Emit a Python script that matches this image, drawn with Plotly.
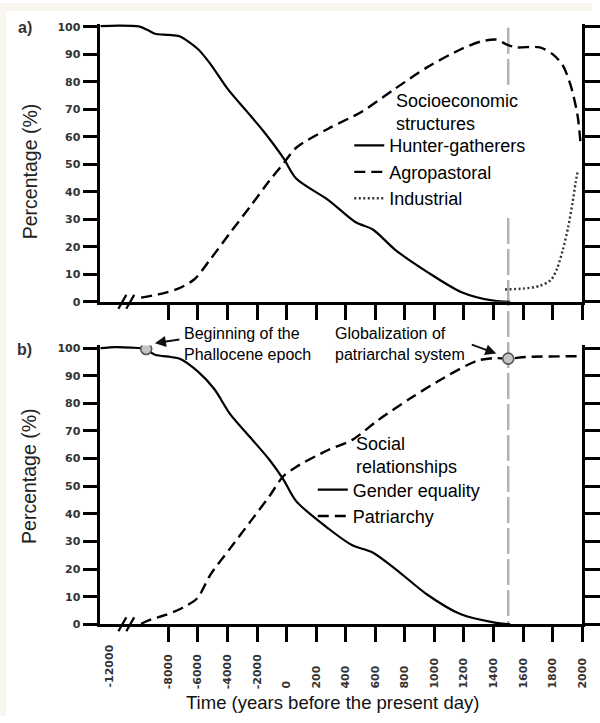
import numpy as np
import plotly.graph_objects as go

# ---------------- axis scale (broken time axis: equal spacing per tick) ----------------
AXIS_YEARS = [-14000, -12000, -8000, -6000, -4000, -2000, 0, 200, 400, 600, 800,
              1000, 1200, 1400, 1600, 1800, 2000]
AXIS_POS = [-3, -2, 0, 1, 2, 3, 4, 5, 6, 7, 8, 9, 10, 11, 12, 13, 14]

TICK_YEARS = [-8000, -6000, -4000, -2000, 0, 200, 400, 600, 800, 1000, 1200, 1400,
              1600, 1800, 2000]
BREAK_LABEL_YEAR = -12000
Y_TICKS = [0, 10, 20, 30, 40, 50, 60, 70, 80, 90, 100]

# ---------------- panel a: socioeconomic structures ----------------
hg_years = [-12600, -11400, -10000, -9400, -8900, -8000, -7250, -6000, -5160, -4000,
            -2690, -1560, -220, 65, 285, 465, 586, 733, 953, 1180, 1400, 1514]
hg_vals = [100.2, 100.4, 100.1, 98.8, 97.4, 97.0, 96.5, 91.9, 86.5, 77.5,
           69.2, 62.0, 52.3, 44.8, 36.9, 29.0, 26.2, 19.0, 10.8, 3.6, 0.4, 0.0]

ag_years = [-9840, -8500, -7370, -6230, -5160, -3830, -2490, -1160, -220, 65, 285,
            512, 733, 953, 1180, 1314, 1420, 1487, 1554, 1714, 1800, 1868, 1921,
            1968, 1988]
ag_vals = [1.5, 2.9, 4.7, 8.2, 15.4, 25.0, 34.4, 44.0, 50.2, 56.0, 63.0,
           69.2, 77.4, 85.3, 91.8, 94.6, 95.3, 93.6, 92.5, 92.5, 90.0, 86.0, 78.9,
           68.1, 58.4]

ind_years = [1478, 1600, 1714, 1790, 1830, 1870, 1905, 1935, 1955, 1972]
ind_vals = [4.5, 4.8, 5.8, 8.0, 12.0, 19.0, 27.0, 36.0, 43.0, 48.0]

# ---------------- panel b: social relationships ----------------
ge_years = [-12600, -11570, -10500, -9570, -8900, -7830, -7230, -6030, -4890, -3830,
            -2490, -1160, -220, 65, 285, 445, 579, 733, 953, 1180, 1400, 1514]
ge_vals = [100.0, 100.4, 100.2, 99.7, 97.6, 96.8, 96.2, 91.7, 85.2, 76.2,
           67.9, 59.6, 52.5, 44.6, 34.6, 28.6, 26.1, 20.2, 10.7, 3.6, 0.7, 0.0]

pa_years = [-9840, -9170, -8230, -7030, -6030, -5160, -3830, -2490, -1160, -220, 65,
            285, 445, 619, 846, 1066, 1287, 1400, 1500, 1620, 2000]
pa_vals = [0.2, 1.8, 3.3, 6.0, 9.5, 17.9, 27.4, 36.9, 46.4, 53.6, 57.0,
           63.2, 66.8, 73.9, 82.1, 89.3, 95.4, 96.4, 96.2, 96.8, 97.1]

event_years = [-9500, 1500]
event_vals = [99.7, 96.2]
GLOBALIZATION_YEAR = 1500


def pos(years):
    return np.interp(np.asarray(years, dtype=float), AXIS_YEARS, AXIS_POS)


# DejaVu Sans Bold advance widths (em) used to bottom-align rotated tick labels
_ADV = {'-': 0.415, 'd': 0.696}
_NBSP = 0.348


def pad_label(y, ref=str(BREAK_LABEL_YEAR)):
    def width(s):
        return sum(_ADV['-'] if c == '-' else _ADV['d'] for c in s)
    s = str(y)
    n = int(round((width(ref) - width(s)) / _NBSP))
    return s + '\u00a0' * n


TICK_LABELS = [pad_label(y) for y in TICK_YEARS]

# ---------------- layout geometry (pixels -> paper) ----------------
W, H = 600, 723


def px(x):
    return x / W


def py(y):
    return 1 - y / H


XD = [px(101.7), px(590)]
XR = [-2.3, 14]
YD_A = [py(303), py(21.2)]
YD_B = [py(630), py(347.2)]

BLACK = 'black'
TICKFONT = dict(family='DejaVu Sans', size=11, color='#333333', weight='bold')
TXT = 'Liberation Sans'
DASH = '11px,6px'
DOT = '2px,2.5px'

fig = go.Figure()

# panel a
fig.add_trace(go.Scatter(x=pos(hg_years), y=hg_vals, mode='lines', name='Hunter-gatherers',
                         line=dict(color=BLACK, width=2.2, shape='spline', smoothing=0.8),
                         xaxis='x', yaxis='y', legend='legend'))
fig.add_trace(go.Scatter(x=pos(ag_years), y=ag_vals, mode='lines', name='Agropastoral',
                         line=dict(color=BLACK, width=2.4, dash=DASH, shape='spline', smoothing=0.8),
                         xaxis='x', yaxis='y', legend='legend'))
fig.add_trace(go.Scatter(x=pos(ind_years), y=ind_vals, mode='lines', name='Industrial',
                         line=dict(color='#333333', width=2.4, dash=DOT, shape='spline', smoothing=0.8),
                         xaxis='x', yaxis='y', legend='legend'))

# panel b
fig.add_trace(go.Scatter(x=pos(ge_years), y=ge_vals, mode='lines', name='Gender equality',
                         line=dict(color=BLACK, width=2.2, shape='spline', smoothing=0.8),
                         xaxis='x2', yaxis='y2', legend='legend2'))
fig.add_trace(go.Scatter(x=pos(pa_years), y=pa_vals, mode='lines', name='Patriarchy',
                         line=dict(color=BLACK, width=2.4, dash=DASH, shape='spline', smoothing=0.8),
                         xaxis='x2', yaxis='y2', legend='legend2'))
fig.add_trace(go.Scatter(x=pos(event_years), y=event_vals, mode='markers', showlegend=False,
                         marker=dict(size=11, color='#c4c4c4', line=dict(color='#555555', width=1.6)),
                         xaxis='x2', yaxis='y2', hoverinfo='skip'))
# carrier trace for the "-12000" label axis
fig.add_trace(go.Scatter(x=[None], y=[None], xaxis='x3', yaxis='y2', showlegend=False,
                         hoverinfo='skip'))

common_x = dict(domain=XD, range=XR, tickmode='array', tickvals=pos(TICK_YEARS),
                ticks='outside', ticklen=15, tickwidth=2.5, tickcolor=BLACK,
                showline=True, linewidth=2.5, linecolor=BLACK, showgrid=False,
                zeroline=False, fixedrange=True)
common_y = dict(range=[0, 101], tickmode='array', tickvals=Y_TICKS, ticks='outside',
                ticklen=15, tickwidth=2.5, tickcolor=BLACK, showline=True, linewidth=2.5,
                linecolor=BLACK, mirror='ticks', showgrid=False, zeroline=False,
                tickfont=TICKFONT, fixedrange=True)

LEGFONT = dict(family=TXT, size=18, color=BLACK)
fig.update_layout(
    width=W, height=H, margin=dict(l=0, r=0, t=0, b=0),
    paper_bgcolor='white', plot_bgcolor='white',
    font=dict(family=TXT, color=BLACK),
    xaxis=dict(common_x, anchor='y', showticklabels=False),
    yaxis=dict(common_y, domain=YD_A, anchor='x'),
    xaxis2=dict(common_x, anchor='y2', showticklabels=True, ticktext=TICK_LABELS,
                tickangle=-90, tickfont=TICKFONT),
    yaxis2=dict(common_y, domain=YD_B, anchor='x2'),
    xaxis3=dict(overlaying='x2', anchor='y2', range=XR, tickmode='array',
                tickvals=pos([BREAK_LABEL_YEAR]), ticktext=[str(BREAK_LABEL_YEAR)],
                ticks='outside', ticklen=15, tickwidth=2.5, tickcolor='rgba(0,0,0,0)',
                showline=False, showgrid=False, zeroline=False, tickangle=-90,
                tickfont=TICKFONT, fixedrange=True),
    legend=dict(x=px(354), xanchor='left', y=py(126), yanchor='top',
                bgcolor='rgba(0,0,0,0)', font=LEGFONT, itemwidth=30, tracegroupgap=0),
    legend2=dict(x=px(317), xanchor='left', y=py(475), yanchor='top',
                 bgcolor='rgba(0,0,0,0)', font=LEGFONT, itemwidth=30, tracegroupgap=0),
    showlegend=True,
)

# cream frame strips at the top/left edge of the page
fig.add_shape(type='rect', xref='paper', yref='paper', x0=0, x1=1, y0=py(8), y1=1,
              fillcolor='#f8f6ee', line=dict(width=0), layer='below')
fig.add_shape(type='rect', xref='paper', yref='paper', x0=0, x1=px(6), y0=0, y1=1,
              fillcolor='#f8f6ee', line=dict(width=0), layer='below')

# vertical gray dashed line at globalization year (hidden behind legend title region)
gx = float(pos([GLOBALIZATION_YEAR])[0])
for (ya, yb) in [(25, 88), (218, 630)]:
    fig.add_shape(type='line', xref='x2', yref='paper', x0=gx, x1=gx, y0=py(ya), y1=py(yb),
                  line=dict(color='#b3b3b3', width=2.5, dash='26px,5px'), layer='below')

# axis break marks
for (xa, yy) in [(124, 303), (132, 303), (124, 630), (132, 630)]:
    fig.add_shape(type='line', xref='paper', yref='paper',
                  x0=px(xa - 4), x1=px(xa + 4), y0=py(yy + 7), y1=py(yy - 7),
                  line=dict(color=BLACK, width=2.2))


def note(text, x, y, size, xanchor='center', yanchor='middle', angle=0, color=BLACK,
         weight='normal', align='left'):
    return dict(text=text, x=px(x), y=py(y), xref='paper', yref='paper', showarrow=False,
                xanchor=xanchor, yanchor=yanchor, textangle=angle, align=align,
                font=dict(family=TXT, size=size, color=color, weight=weight))


ann = [
    note('a)', 25, 25, 16, color='#333333', weight='bold'),
    note('b)', 25, 351, 16, color='#333333', weight='bold'),
    note('Percentage (%)', 30, 171, 19.5, angle=-90, color='#222222'),
    note('Percentage (%)', 30, 480, 19.5, angle=-90, color='#222222'),
    note('Time (years before the present day)', 337, 709, 18.5, color='#111111'),
    note('Socioeconomic<br>structures', 399, 87, 18, xanchor='left', yanchor='top'),
    note('Social<br>relationships', 359, 435, 18, xanchor='left', yanchor='top'),
    note('Beginning of the<br>Phallocene epoch', 184, 346, 16, xanchor='left'),
    note('Globalization of<br>patriarchal system', 338, 346, 16, xanchor='left'),
]
# arrows (head position in paper, tail as pixel offset)
ann.append(dict(text='', x=px(157), y=py(345), xref='paper', yref='paper',
                ax=26, ay=-4, showarrow=True,
                arrowhead=2, arrowsize=1.1, arrowwidth=2, arrowcolor='#111111'))
ann.append(dict(text='', x=px(503), y=py(355.5), xref='paper', yref='paper',
                ax=-26, ay=-9.5, showarrow=True,
                arrowhead=2, arrowsize=1.1, arrowwidth=2, arrowcolor='#111111'))
fig.update_layout(annotations=ann)

fig.write_html('out.html', config={'displayModeBar': False},
               post_script="document.documentElement.style.margin='0';"
                           "document.body.style.margin='0';"
                           "document.documentElement.style.overflow='hidden';"
                           "document.body.style.overflow='hidden';")
